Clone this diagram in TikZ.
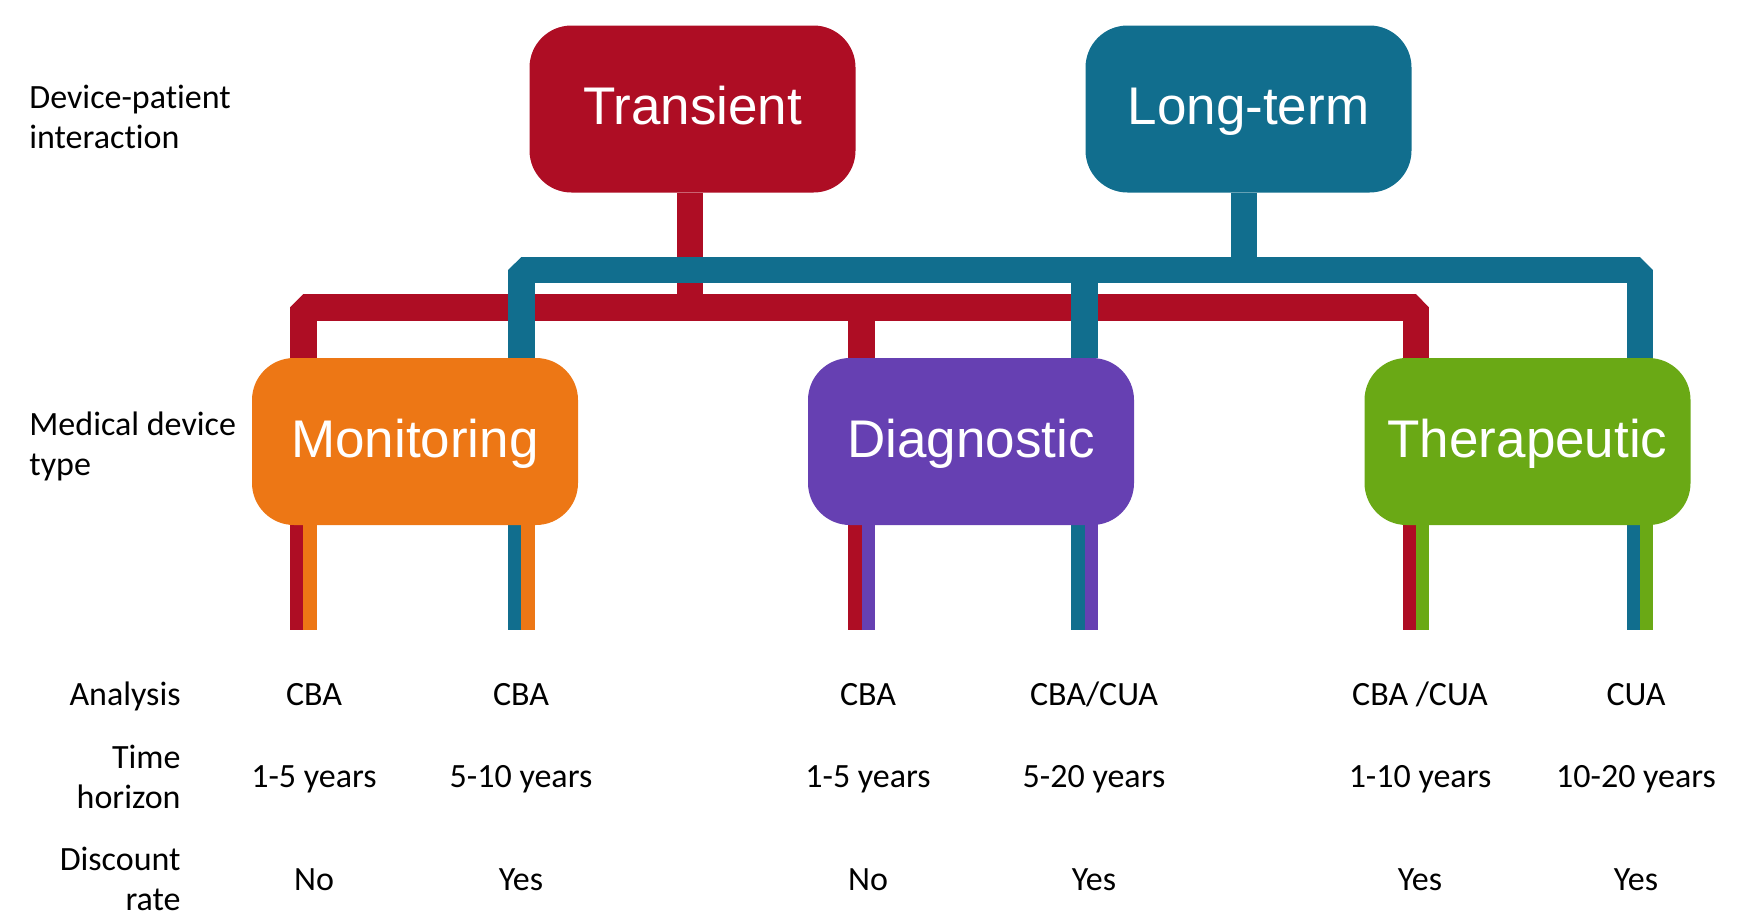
\documentclass[tikz,border=0pt]{standalone}
\usepackage{fontspec}
\usetikzlibrary{backgrounds}
\setmainfont{Carlito}[Ligatures={NoCommon}]
\newfontfamily\boxfont{Liberation Sans}
\definecolor{cred}{RGB}{174,13,36}
\definecolor{cteal}{RGB}{17,110,142}
\definecolor{corange}{RGB}{237,119,21}
\definecolor{cpurple}{RGB}{102,64,178}
\definecolor{cgreen}{RGB}{106,169,21}
\begin{document}
\begin{tikzpicture}[x=0.5pt,y=-0.5pt,
  boxnode/.style={rounded corners=21pt, minimum width=163pt, minimum height=83.5pt,
    inner sep=0pt, text=white, font=\boxfont\fontsize{26.5}{30}\selectfont,
    text height=19.1pt, text depth=3.2pt},
  redline/.style={draw=cred, line width=13.25pt, line join=bevel},
  tealline/.style={draw=cteal, line width=13.25pt, line join=bevel},
  halfline/.style={line width=6.63pt},
  tab/.style={font=\fontsize{17}{20}\selectfont, anchor=base, inner sep=0pt},
  lab/.style={font=\fontsize{17}{20}\selectfont, inner sep=0pt}]
\useasboundingbox (0,0) rectangle (1738,911);

% boxes
\node[boxnode, fill=cred] (trans) at (692.5,109) {Transient};
\node[boxnode, fill=cteal] (long) at (1248.5,109) {Long-term};
\node[boxnode, fill=corange] (mon) at (415,441.5) {Monitoring};
\node[boxnode, fill=cpurple] (dia) at (971,441.5) {Diagnostic};
\node[boxnode, fill=cgreen] (the) at (1527.5,441.5) {Therapeutic};

% junction coordinates
\coordinate (rj) at (690,307.5);
\coordinate (rl) at (303.5,307.5);
\coordinate (rm) at (861.5,307.5);
\coordinate (rr) at (1416,307.5);
\coordinate (tj) at (1244,270);
\coordinate (tl) at (521.5,270);
\coordinate (tm) at (1084.5,270);
\coordinate (tr) at (1640,270);

\begin{scope}[on background layer]
% red tree
\draw[redline] (trans.south -| rj) -- (rj);
\draw[redline] (rl |- mon.north) -- (rl) -- (rr) -- (rr |- the.north);
\draw[redline] (rm) -- (rm |- dia.north);
% teal tree
\draw[tealline] (long.south -| tj) -- (tj);
\draw[tealline] (tl |- mon.north) -- (tl) -- (tr) -- (tr |- the.north);
\draw[tealline] (tm) -- (tm |- dia.north);
% lower split lines
\foreach \b/\c/\x/\lc in {mon/corange/303.5/cred, mon/corange/521.5/cteal,
    dia/cpurple/861.5/cred, dia/cpurple/1084.5/cteal,
    the/cgreen/1416/cred, the/cgreen/1640/cteal} {
  \coordinate (e) at (\x,630);
  \draw[halfline, draw=\lc] ([xshift=-3.31pt]e |- \b.center) -- ([xshift=-3.31pt]e);
  \draw[halfline, draw=\c] ([xshift=3.31pt]e |- \b.center) -- ([xshift=3.31pt]e);
}
\end{scope}

% left labels (base anchor = baseline of last line)
\node[lab, anchor=base west, align=left] (l1) at (29,148) {Device-patient\\interaction};
\node[lab, anchor=base west, align=left] (l2) at (29,475) {Medical device\\type};
\node[lab, anchor=base east, align=right] (l3) at (181,705) {Analysis};
\node[lab, anchor=base east, align=right] (l4) at (181,808) {Time\\horizon};
\node[lab, anchor=base east, align=right] (l5) at (181,910) {Discount\\rate};

% table
\foreach \x/\a/\t/\d [count=\i] in {314/CBA/1-5 years/No, 521/CBA/5-10 years/Yes,
    868/CBA/1-5 years/No, 1094/{CBA/CUA}/5-20 years/Yes,
    1420/{CBA /CUA}/1-10 years/Yes, 1636/CUA/10-20 years/Yes} {
  \node[tab] (a\i) at (\x,705) {\a};
  \node[tab] (t\i) at (\x,787) {\t};
  \node[tab] (d\i) at (\x,890) {\d};
}
\end{tikzpicture}
\end{document}
